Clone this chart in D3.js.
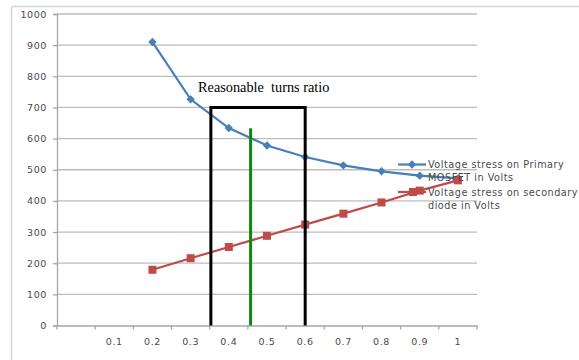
<!DOCTYPE html>
<html>
<head>
<meta charset="utf-8">
<script src="https://cdn.jsdelivr.net/npm/d3@7"></script>
<style>
  body { margin: 0; background: #fff; }
  svg { display: block; }
</style>
</head>
<body>
<svg id="chart" width="579" height="360"></svg>
<script>
// ---- data ----
const categories = ["", "0.1", "0.2", "0.3", "0.4", "0.5", "0.6", "0.7", "0.8", "0.9", "1"];
const ratioValues = [0.2, 0.3, 0.4, 0.5, 0.6, 0.7, 0.8, 0.9, 1.0];
const primaryStress = [910, 726, 634, 578, 541, 514, 495, 481, 472];
const secondaryStress = [179, 216, 252, 288, 324, 359, 395, 433, 466];
const yTicks = [0, 100, 200, 300, 400, 500, 600, 700, 800, 900, 1000];
const seriesNames = [["Voltage stress on Primary", "MOSFET in Volts"], ["Voltage stress on secondary", "diode in Volts"]];
const boxRange = [0.353, 0.6];
const boxTop = 700;
const optimumRatio = 0.457;
const optimumTop = 633;
const annotation = "Reasonable\u00a0 turns ratio";

// ---- layout ----
const svg = d3.select("#chart");
const mLeft = 57, mRight = 477, mTop = 14, mBottom = 325.5;

const xBand = d3.scaleBand().domain(categories).range([mLeft, mRight]);
const xLin = d3.scaleLinear().domain([-0.05, 1.05]).range([mLeft, mRight]);
const y = d3.scaleLinear().domain([0, 1000]).range([mBottom, mTop]);

// outer chart border
svg.append("path")
  .attr("d", `M11.5,360 L11.5,9 Q11.5,6.5 14,6.5 L579,6.5`)
  .attr("fill", "none").attr("stroke", "#d4d7d9").attr("stroke-width", 1.5);

// gridlines
svg.append("g").selectAll("line").data(yTicks.filter(d => d > 0)).join("line")
  .attr("x1", mLeft).attr("x2", mRight)
  .attr("y1", d => y(d)).attr("y2", d => y(d))
  .attr("stroke", "#bcbcbc").attr("stroke-width", 1.3);

// y axis
const yAxis = svg.append("g").attr("transform", `translate(${mLeft},0)`)
  .call(d3.axisLeft(y).tickValues(yTicks).tickSize(4).tickPadding(6).tickFormat(d3.format("d")));
yAxis.select(".domain").attr("stroke", "#a6a6a6").attr("stroke-width", 1.3);
yAxis.selectAll(".tick line").attr("stroke", "#a6a6a6").attr("stroke-width", 1.3);
yAxis.selectAll("text").attr("font-family", "DejaVu Sans, sans-serif").attr("font-size", 9.5)
  .attr("letter-spacing", 0.6).attr("fill", "#4a4a4a");

// x axis
const xAxis = svg.append("g").attr("transform", `translate(0,${mBottom})`)
  .call(d3.axisBottom(xBand).tickSize(0).tickPadding(13));
xAxis.select(".domain").attr("stroke", "#a6a6a6").attr("stroke-width", 1.3);
xAxis.selectAll("text").attr("font-family", "DejaVu Sans, sans-serif").attr("font-size", 9.5)
  .attr("letter-spacing", 0.6).attr("fill", "#4a4a4a");
// category boundary tick marks
svg.append("g").selectAll("line").data(d3.range(categories.length + 1)).join("line")
  .attr("x1", i => mLeft + i * xBand.step()).attr("x2", i => mLeft + i * xBand.step())
  .attr("y1", mBottom).attr("y2", mBottom + 4)
  .attr("stroke", "#a6a6a6").attr("stroke-width", 1.3);

// series
const blue = "#4a7ebb", red = "#be4b48";
const line = d3.line().x(d => xLin(d[0])).y(d => y(d[1]));
const bData = ratioValues.map((r, i) => [r, primaryStress[i]]);
const rData = ratioValues.map((r, i) => [r, secondaryStress[i]]);

svg.append("path").datum(bData).attr("d", line)
  .attr("fill", "none").attr("stroke", blue).attr("stroke-width", 2.2);
svg.append("g").selectAll("path").data(bData).join("path")
  .attr("d", d3.symbol(d3.symbolDiamond2, 45))
  .attr("transform", d => `translate(${xLin(d[0])},${y(d[1])})`)
  .attr("fill", blue);

svg.append("path").datum(rData).attr("d", line)
  .attr("fill", "none").attr("stroke", red).attr("stroke-width", 2.2);
svg.append("g").selectAll("rect").data(rData).join("rect")
  .attr("x", d => xLin(d[0]) - 4).attr("y", d => y(d[1]) - 4)
  .attr("width", 8).attr("height", 8)
  .attr("fill", red);

// annotation box
svg.append("path")
  .attr("d", `M${xLin(boxRange[0])},${mBottom} L${xLin(boxRange[0])},${y(boxTop)} L${xLin(boxRange[1])},${y(boxTop)} L${xLin(boxRange[1])},${mBottom}`)
  .attr("fill", "none").attr("stroke", "#000").attr("stroke-width", 3);
svg.append("line")
  .attr("x1", xLin(optimumRatio)).attr("x2", xLin(optimumRatio))
  .attr("y1", y(optimumTop)).attr("y2", mBottom)
  .attr("stroke", "#0a8a0a").attr("stroke-width", 3);
svg.append("text")
  .attr("x", 198).attr("y", 92)
  .attr("font-family", "Liberation Serif, Times New Roman, serif").attr("font-size", 14.3)
  .attr("fill", "#000").text(annotation);

// legend
const legendColors = [blue, red];
const legendY = [164.5, 192];
seriesNames.forEach((lines, i) => {
  const g = svg.append("g");
  g.append("line").attr("x1", 398).attr("x2", 426).attr("y1", legendY[i]).attr("y2", legendY[i])
    .attr("stroke", legendColors[i]).attr("stroke-width", 2.2);
  if (i === 0) {
    g.append("path").attr("d", d3.symbol(d3.symbolDiamond2, 45))
      .attr("transform", `translate(412,${legendY[i]})`).attr("fill", blue);
  } else {
    g.append("rect").attr("x", 409).attr("y", legendY[i] - 4).attr("width", 8).attr("height", 8).attr("fill", red);
  }
  lines.forEach((t, j) => {
    g.append("text").attr("x", 428).attr("y", legendY[i] + 3.5 + j * 13)
      .attr("font-family", "DejaVu Sans, sans-serif").attr("font-size", 9.7)
      .attr("letter-spacing", 0.5)
      .attr("fill", "#4a4a4a").text(t);
  });
});
</script>
</body>
</html>
